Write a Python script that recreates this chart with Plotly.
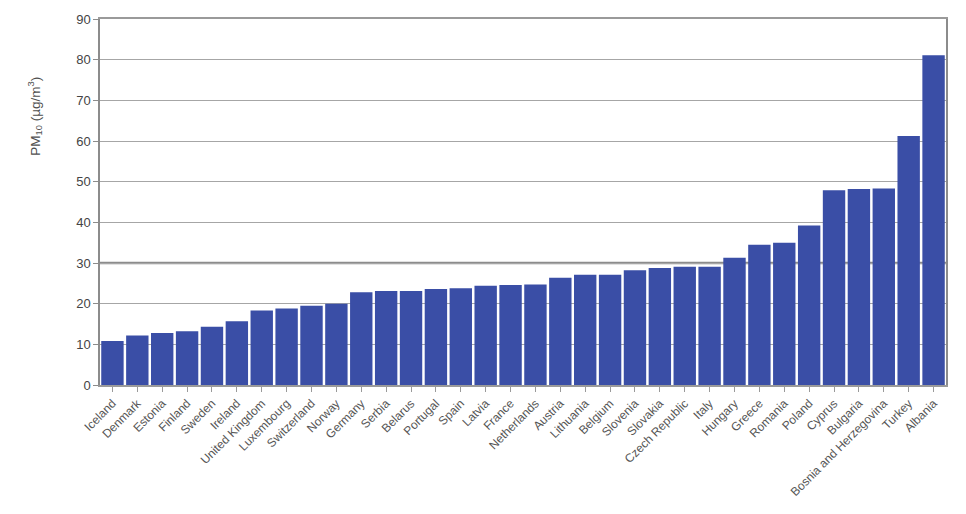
import plotly.graph_objects as go

countries = ["Iceland", "Denmark", "Estonia", "Finland", "Sweden", "Ireland",
             "United Kingdom", "Luxembourg", "Switzerland", "Norway", "Germany",
             "Serbia", "Belarus", "Portugal", "Spain", "Latvia", "France",
             "Netherlands", "Austria", "Lithuania", "Belgium", "Slovenia",
             "Slovakia", "Czech Republic", "Italy", "Hungary", "Greece",
             "Romania", "Poland", "Cyprus", "Bulgaria", "Bosnia and Herzegovina",
             "Turkey", "Albania"]
pm10 = [10.8, 12.2, 12.8, 13.2, 14.3, 15.7, 18.3, 18.8, 19.5, 20.0, 22.8,
        23.1, 23.1, 23.6, 23.8, 24.4, 24.6, 24.7, 26.4, 27.1, 27.1, 28.2,
        28.8, 29.1, 29.1, 31.3, 34.5, 35.0, 39.2, 47.9, 48.2, 48.3, 61.2, 81.1]
y_ticks = [0, 10, 20, 30, 40, 50, 60, 70, 80, 90]
ref_level = 30
y_title = "PM<sub>10</sub> (µg/m<sup>3</sup>)"

fig = go.Figure(go.Bar(
    x=countries, y=pm10,
    marker=dict(color="#3a4ea6", line=dict(width=0)),
))

fig.add_hline(y=ref_level, line=dict(color="#8c8c8c", width=2.5), layer="below")

fig.add_annotation(
    text=y_title, textangle=-90, showarrow=False,
    xref="paper", yref="paper", x=-0.077, y=0.735,
    xanchor="center", yanchor="middle",
    font=dict(size=13.5, color="#505050"),
)

fig.update_layout(
    width=966, height=514,
    margin=dict(l=100, r=20, t=13, b=129),
    paper_bgcolor="white", plot_bgcolor="white",
    bargap=0.1,
    showlegend=False,
    font=dict(family="Liberation Sans, Arial, sans-serif", color="#444444"),
)
fig.update_xaxes(
    tickangle=-45, tickfont=dict(size=12, color="#555555"),
    showline=True, linecolor="#9a9a9a", linewidth=1.5, mirror=True,
    ticks="outside", ticklen=5, tickcolor="#9a9a9a",
    showgrid=False,
)
fig.update_yaxes(
    range=[0, 90], tickvals=y_ticks,
    tickfont=dict(size=13, color="#444444"),
    showgrid=True, gridcolor="#a6a6a6", gridwidth=1.2,
    showline=True, linecolor="#8c8c8c", linewidth=1.5, mirror=True,
    ticks="outside", ticklen=5, tickcolor="#8c8c8c",
    zeroline=False,
)

fig.write_html("out.html")
